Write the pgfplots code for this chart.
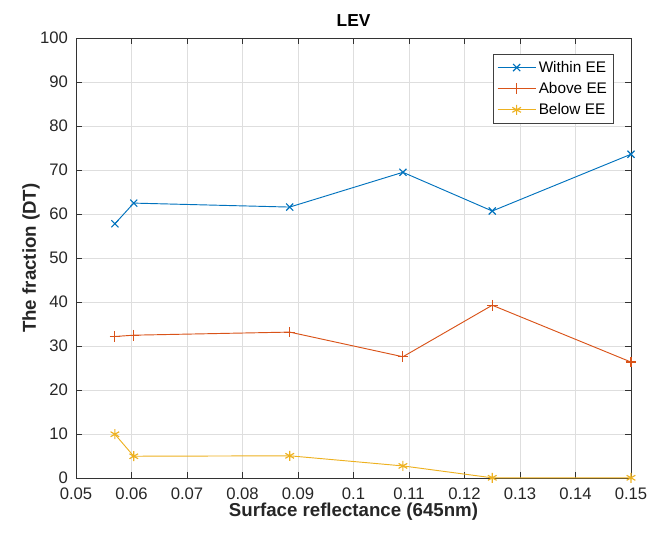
\documentclass[border=0pt]{standalone}
\usepackage{fontspec}
\setmainfont{Liberation Sans}
\usepackage{pgfplots}
\pgfplotsset{compat=1.18}
\definecolor{mblue}{rgb}{0,0.447,0.741}
\definecolor{mred}{rgb}{0.85,0.325,0.098}
\definecolor{myel}{rgb}{0.929,0.694,0.125}
\begin{document}
\begin{tikzpicture}
\begin{axis}[
  scale only axis,
  width=416pt, height=330pt,
  xmin=0.05, xmax=0.15, ymin=0, ymax=100,
  xtick={0.05,0.06,0.07,0.08,0.09,0.1,0.11,0.12,0.13,0.14,0.15},
  ytick={0,10,20,30,40,50,60,70,80,90,100},
  xticklabel style={/pgf/number format/fixed,/pgf/number format/precision=2, yshift=-3.5pt},
  yticklabel style={xshift=-2.5pt},
  scaled x ticks=false,
  /pgf/number format/assume math mode=true,
  tick align=inside,
  tick style={black!80, line width=0.5pt},
  major tick length=4.5pt,
  axis line style={black!80, line width=0.6pt},
  grid=major,
  grid style={black!13, line width=0.5pt},
  ticklabel style={font=\fontsize{12.5}{14}\selectfont, text=black!85},
  title={\textbf{LEV}},
  title style={font=\fontsize{13}{15}\selectfont, at={(axis description cs:0.5,1.021)}, anchor=center},
  xlabel={\textbf{Surface reflectance (645nm)}},
  ylabel={\textbf{The fraction (DT)}},
  label style={font=\fontsize{14}{16}\selectfont, text=black!85},
  xlabel style={at={(axis description cs:0.5,-0.075)}, anchor=center},
  ylabel style={at={(axis description cs:-0.081,0.5)}, anchor=center},
  legend style={at={(1,1)}, anchor=north east, xshift=-12.75pt, yshift=-12pt,
    font=\fontsize{11.5}{13.5}\selectfont, draw=black!75, line width=0.5pt,
    row sep=2pt, inner xsep=3pt, inner ysep=3pt, cells={anchor=west}},
  legend cell align=left,
  legend image code/.code={
    \draw[mark repeat=2,mark phase=2] plot coordinates {(0cm,0cm) (0.5cm,0cm) (1cm,0cm)};},
  legend image post style={line width=0.7pt},
]
\addplot[color=mblue, line width=0.7pt, mark=x, mark size=3.75pt, mark options={line width=0.85pt}]
  coordinates {(0.0570,57.8) (0.0604,62.5) (0.0885,61.6) (0.1089,69.5) (0.1250,60.7) (0.1500,73.6)};
\addlegendentry{Within EE}
\addplot[color=mred, line width=0.7pt, mark=+, mark size=4pt, mark options={line width=0.85pt}]
  coordinates {(0.0570,32.2) (0.0604,32.5) (0.0885,33.2) (0.1089,27.6) (0.1250,39.3) (0.1500,26.4)};
\addlegendentry{Above EE}
\addplot[color=myel, line width=0.7pt, mark=asterisk, mark size=3.75pt, mark options={line width=0.85pt}]
  coordinates {(0.0570,10.0) (0.0604,5.0) (0.0885,5.1) (0.1089,2.8) (0.1250,0.1) (0.1500,0.1)};
\addlegendentry{Below EE}
\end{axis}
\pgfresetboundingbox
\path (current axis.south west) ++(-57pt,-41.25pt);
\path (current axis.north east) ++(15.75pt,28.5pt);
\end{tikzpicture}
\end{document}
